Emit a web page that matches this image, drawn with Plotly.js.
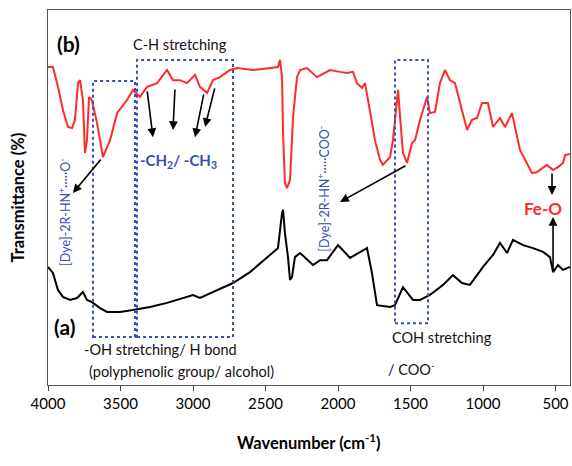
<!DOCTYPE html>
<html>
<head>
<meta charset="utf-8">
<script src="https://cdn.plot.ly/plotly-3.0.1.min.js"></script>
<style>html,body{margin:0;padding:0;background:#fff}#chart{width:572px;height:466px}</style>
</head>
<body>
<div id="chart"></div>
<script>
// Sample (b) – red spectrum
var wnB = [4000,3966,3931,3897,3862,3834,3814,3793,3779,3759,3745,3731,3717,3697,3662,3621,3572,3524,3455,3414,3366,3317,3248,3179,3138,3090,3041,2986,2952,2903,2862,2814,2745,2697,2586,2490,2414,2400,2386,2379,2366,2352,2331,2310,2283,2262,2214,2145,2055,1986,1938,1897,1869,1834,1814,1793,1745,1710,1690,1641,1621,1593,1586,1572,1552,1524,1490,1469,1434,1386,1366,1331,1297,1262,1228,1193,1145,1110,1076,1041,1007,966,931,883,848,800,745,662,628,559,517,483,448,434,400];
var tB  = [84.8,84.8,79.5,73.3,68.8,68.5,70.7,80.5,81.3,76.0,61.9,65.3,76.8,76.0,69.9,60.8,65.3,72.5,76.0,78.7,76.8,79.5,80.5,84.0,81.3,81.3,80.5,82.7,79.5,77.9,81.3,82.1,84.0,84.5,84.0,84.5,84.8,86.7,82.1,67.2,53.9,52.5,54.7,71.5,82.1,84.0,84.5,82.1,84.0,83.5,83.2,83.5,80.5,79.2,80.5,76.0,65.3,60.0,58.7,60.8,65.3,76.0,78.7,71.5,61.9,59.2,64.5,65.3,70.7,76.8,72.5,72.8,80.5,84.0,81.3,80.5,73.3,68.0,70.7,71.2,75.2,75.2,68.8,71.2,68.8,72.5,62.7,56.5,56.8,58.7,57.3,58.1,59.2,61.3,61.6];

// Sample (a) – black spectrum
var wnA = [4000,3966,3931,3897,3848,3800,3759,3731,3697,3641,3593,3503,3414,3297,3179,3069,3000,2952,2862,2724,2607,2490,2414,2386,2379,2366,2345,2331,2317,2297,2262,2172,2124,2076,2000,1917,1848,1800,1766,1731,1641,1607,1552,1483,1434,1366,1276,1207,1145,1090,1000,931,883,834,793,724,655,586,538,517,483,448,400];
var tA  = [31.5,29.9,25.3,23.5,22.7,23.2,24.8,22.7,22.1,20.5,19.5,19.5,20.0,20.8,21.9,23.2,24.0,23.2,24.8,27.2,30.1,34.1,36.5,45.9,46.7,40.5,34.1,28.0,28.8,34.1,35.2,32.0,33.3,33.3,37.3,33.9,35.5,36.5,29.9,21.3,20.8,21.3,26.1,22.7,22.7,24.0,26.7,29.3,27.2,26.7,31.5,34.7,37.9,35.2,38.7,37.3,36.5,35.5,34.1,30.1,32.0,30.7,31.5];

var xTicks = [4000,3500,3000,2500,2000,1500,1000,500];

// Highlight boxes [wn1, wn2, t1, t2]
var boxOH  = [3690, 3400, 12.8, 81.1];
var boxCH  = [3386, 2724, 12.8, 86.7];
var boxCOH = [1607, 1379, 16.5, 86.7];

// Arrows [tailWn, tailT, headWn, headT]
var arrows = [
  [3628, 60.5, 3828, 51.2],
  [3317, 78.7, 3276, 66.1],
  [3124, 79.2, 3138, 68.0],
  [2924, 77.9, 2986, 66.1],
  [2848, 79.5, 2917, 68.8],
  [1524, 58.7, 1986, 48.8],
  [524, 56.8, 524, 50.7],
  [517, 30.1, 517, 44.8]
];

var FONT = 'Lato, "Open Sans", sans-serif';
var BLUE = '#3a4db3';
var RED = '#ff2a2a';

var traces = [
  {x: wnB, y: tB, mode: 'lines', line: {color: RED, width: 2}, hoverinfo: 'skip'},
  {x: wnA, y: tA, mode: 'lines', line: {color: '#000', width: 2}, hoverinfo: 'skip'}
];

function box(b) {
  return {type: 'rect', xref: 'x', yref: 'y', x0: b[0], x1: b[1], y0: b[2], y1: b[3],
          line: {color: BLUE, width: 2, dash: 'dot'}, fillcolor: 'rgba(0,0,0,0)'};
}

var ann = [];
arrows.forEach(function (a) {
  ann.push({x: a[2], y: a[3], ax: a[0], ay: a[1], xref: 'x', yref: 'y', axref: 'x', ayref: 'y',
            text: '', showarrow: true, arrowhead: 2, arrowsize: 1.1, arrowwidth: 1.6, arrowcolor: '#000'});
});
function txt(x, y, t, opt) {
  var o = {x: x, y: y, xref: 'x', yref: 'y', text: t, showarrow: false,
           font: {family: FONT, size: 14.5, color: '#111'}, xanchor: 'center', yanchor: 'middle'};
  for (var k in opt) o[k] = opt[k];
  return o;
}
ann.push(txt(3862, 91.2, '<b>(b)</b>', {font: {family: FONT, size: 21, color: '#000'}}));
ann.push(txt(3883, 15.5, '<b>(a)</b>', {font: {family: FONT, size: 21, color: '#000'}}));
ann.push(txt(3090, 90.9, 'C-H stretching'));
ann.push(txt(3103, 59.7, '<b>-CH<sub>2</sub>/ -CH<sub>3</sub></b>', {font: {family: FONT, size: 15, color: BLUE}}));
ann.push(txt(3890, 46.1, '[Dye]-2R-HN<sup>+</sup>·····O<sup>-</sup>', {textangle: -90, font: {family: FONT, size: 12.5, color: BLUE}}));
ann.push(txt(2097, 52.3, '[Dye]-2R-HN<sup>+</sup>·····COO<sup>-</sup>', {textangle: -90, font: {family: FONT, size: 12.5, color: BLUE}}));
ann.push(txt(586, 47.2, '<b>Fe-O</b>', {font: {family: FONT, size: 17, color: RED}}));
ann.push(txt(3221, 9.6, '-OH stretching/ H bond'));
ann.push(txt(3076, 3.7, '(polyphenolic group/ alcohol)'));
ann.push(txt(1283, 12.8, 'COH stretching'));
ann.push(txt(1490, 4.5, '/ COO<sup>-</sup>'));
// axis titles
ann.push({xref: 'paper', yref: 'paper', x: 0, y: 0.5, xshift: -31, textangle: -90, showarrow: false,
          text: '<b>Transmittance (%)</b>', font: {family: FONT, size: 16.5, color: '#000'}, xanchor: 'center', yanchor: 'middle'});
ann.push({xref: 'paper', yref: 'paper', x: 0.5, y: 0, yshift: -57, showarrow: false,
          text: '<b>Wavenumber (cm<sup>-1</sup>)</b>', font: {family: FONT, size: 16.5, color: '#000'}, xanchor: 'center', yanchor: 'middle'});

var layout = {
  width: 572, height: 466,
  margin: {l: 48, r: 2, t: 10, b: 81},
  paper_bgcolor: '#fff', plot_bgcolor: '#fff',
  showlegend: false,
  xaxis: {range: [4000, 400], tickvals: xTicks, ticktext: xTicks.map(String), ticks: 'outside', ticklen: 5,
          tickcolor: '#444', showgrid: false, zeroline: false, showline: true, mirror: true,
          linecolor: '#555', linewidth: 1, tickfont: {family: FONT, size: 15, color: '#000'}},
  yaxis: {range: [0, 100], showticklabels: false, ticks: '', showgrid: false, zeroline: false,
          showline: true, mirror: true, linecolor: '#555', linewidth: 1},
  shapes: [box(boxOH), box(boxCH), box(boxCOH)],
  annotations: ann
};

Plotly.newPlot('chart', traces, layout, {staticPlot: true, displayModeBar: false});
</script>
</body>
</html>
